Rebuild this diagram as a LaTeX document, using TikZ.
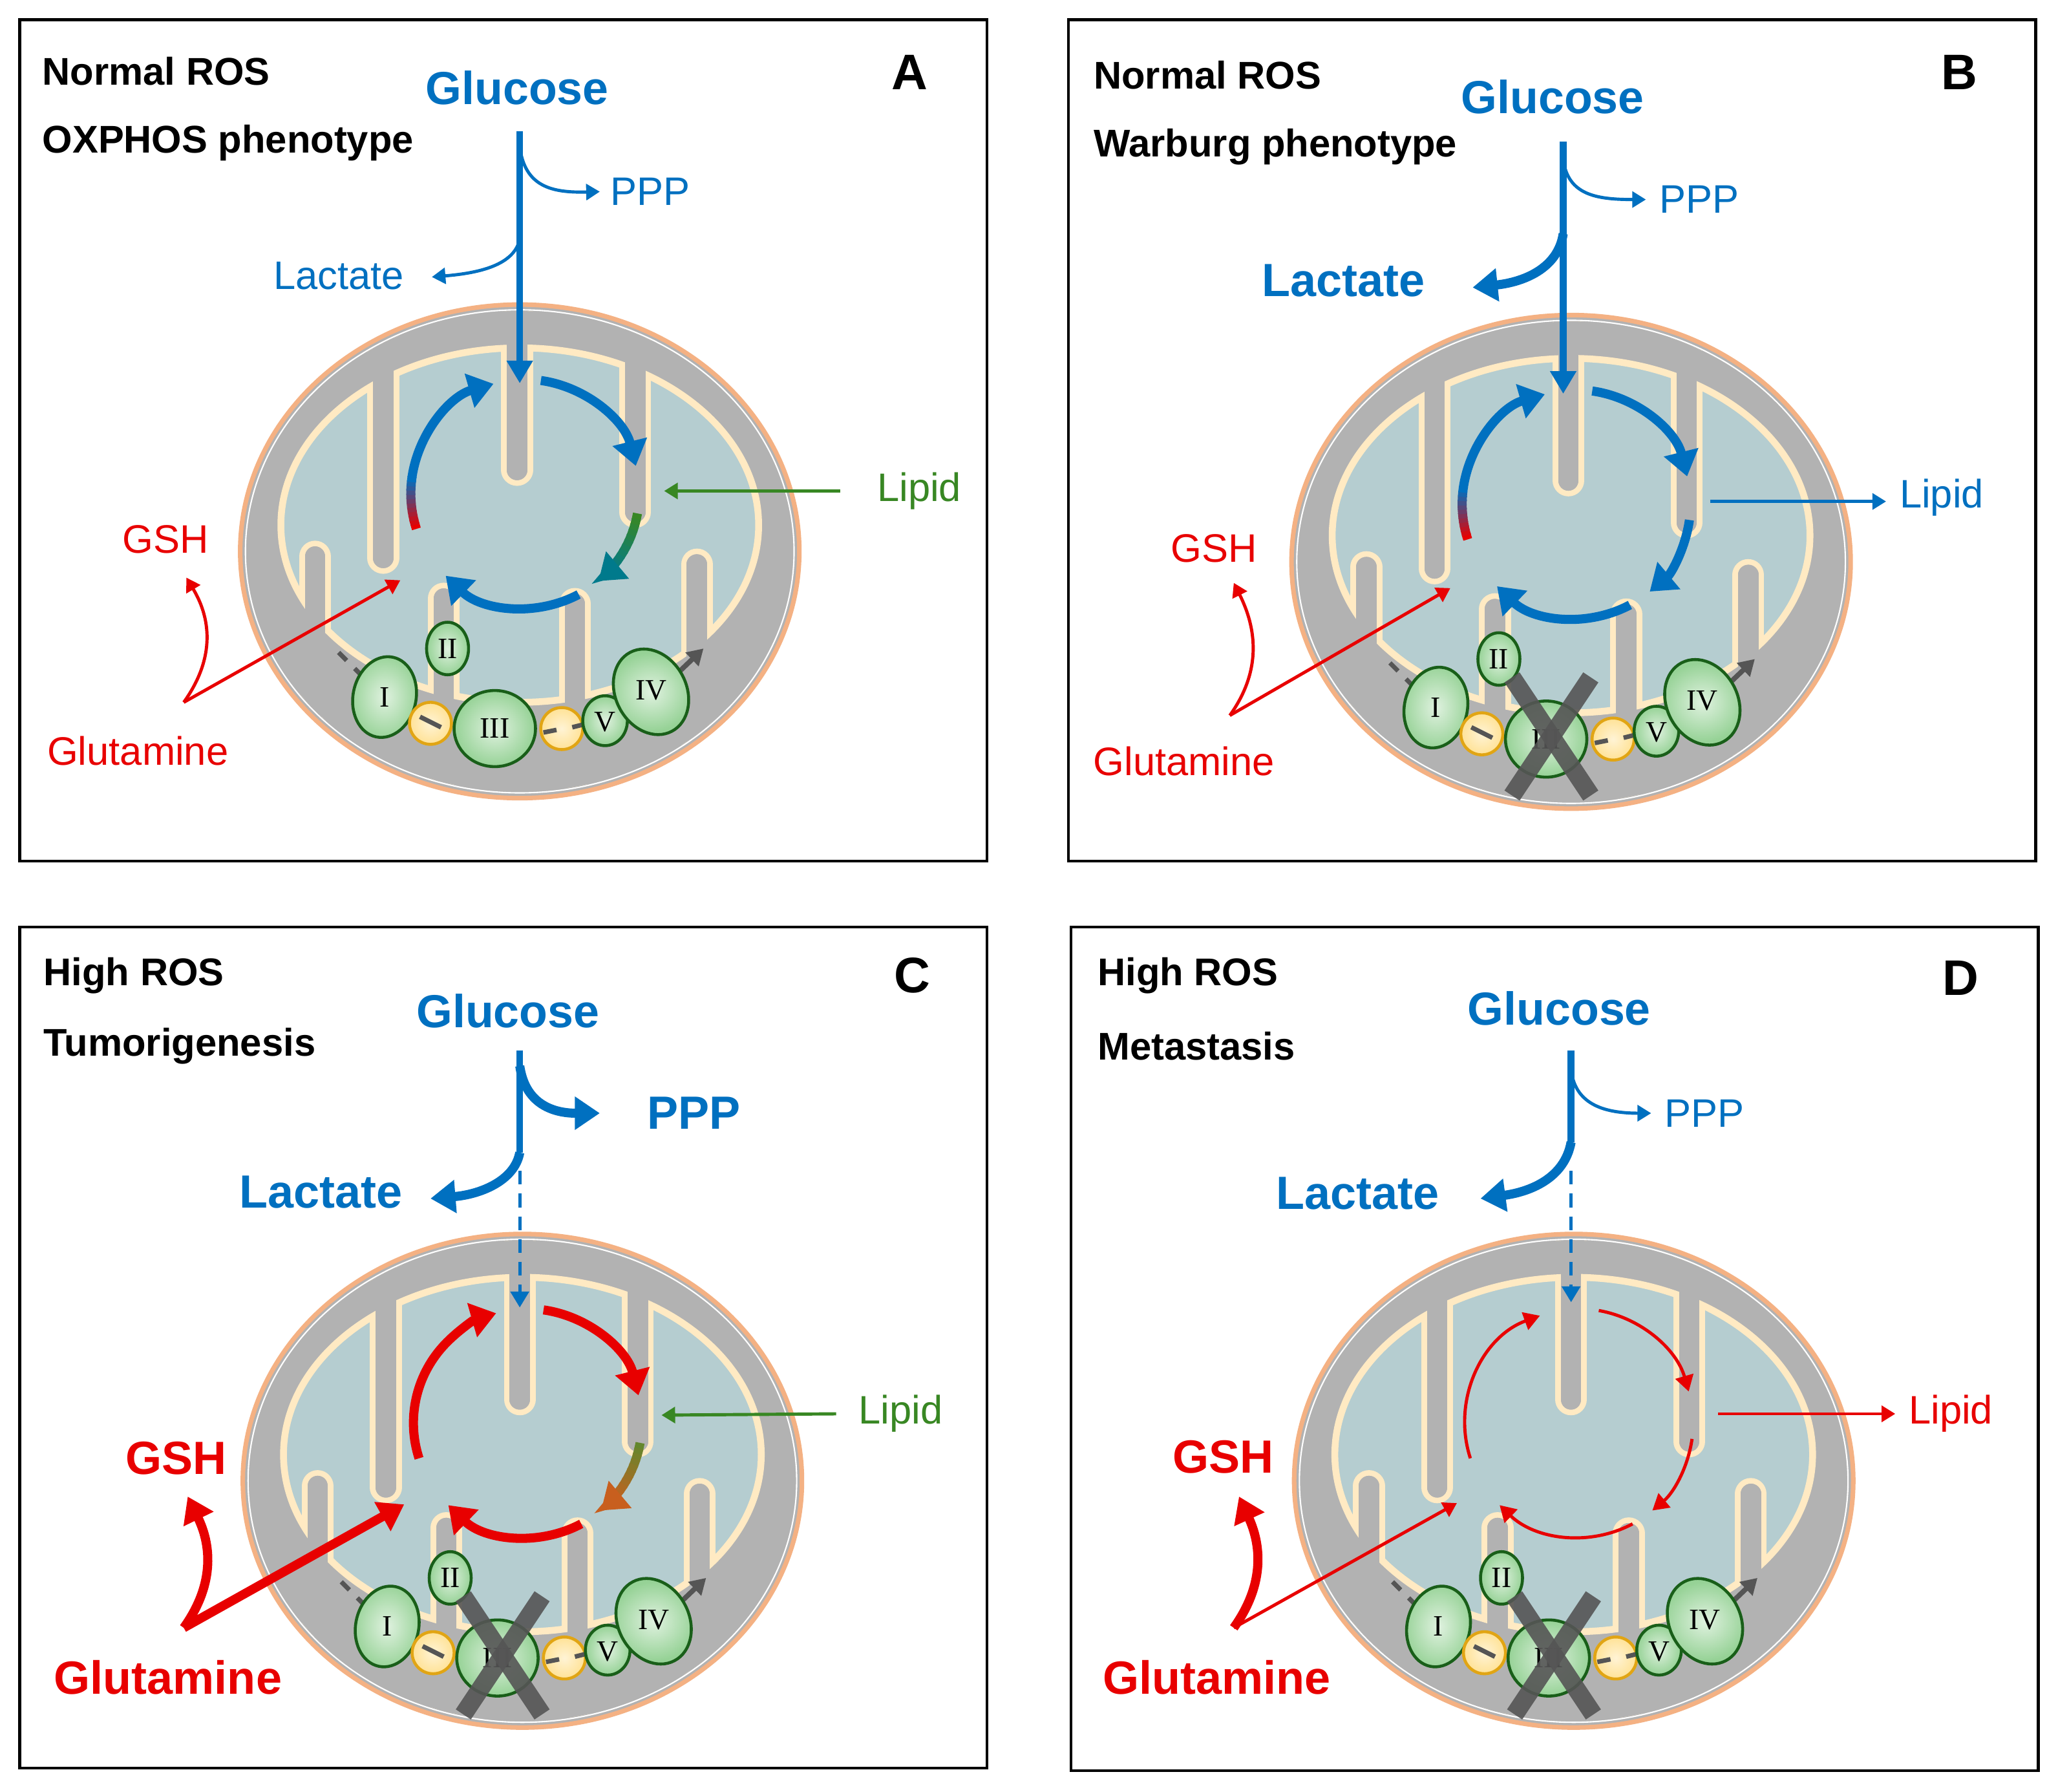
\documentclass[tikz,border=0pt]{standalone}
\usepackage{fontspec}
\setmainfont{Liberation Sans}
\newfontfamily\romf{Liberation Serif}
\usetikzlibrary{arrows.meta,shapes.geometric}
\definecolor{bl}{RGB}{0,112,192}
\definecolor{rd}{RGB}{232,0,0}
\definecolor{gr}{RGB}{56,135,35}
\definecolor{tl}{RGB}{0,122,140}
\definecolor{ol}{RGB}{100,135,45}
\definecolor{brn}{RGB}{200,95,30}
\definecolor{mg}{RGB}{178,178,178}
\definecolor{mx}{RGB}{181,205,208}
\definecolor{cr}{RGB}{255,234,195}
\definecolor{oe}{RGB}{244,177,131}
\definecolor{cg}{RGB}{25,95,25}
\definecolor{cgf}{RGB}{150,210,150}
\definecolor{yl}{RGB}{225,165,20}
\definecolor{yf}{RGB}{255,226,150}
\definecolor{dk}{RGB}{85,85,85}
\tikzset{
  panel/.style={draw=black,line width=1.2pt},
  hdr/.style={font=\fontsize{17}{19}\selectfont\bfseries,anchor=west,inner sep=0},
  let/.style={font=\fontsize{22}{24}\selectfont\bfseries,inner sep=0},
  glu/.style={font=\fontsize{20.4}{22}\selectfont\bfseries,text=bl,inner sep=0},
  sm/.style={font=\fontsize{17.5}{19}\selectfont,inner sep=0},
  big/.style={font=\fontsize{20.5}{22}\selectfont\bfseries,inner sep=0},
  rom/.style={font=\romf\fontsize{13}{13}\selectfont,inner sep=0},
  cplx/.style={inner color=white!70!cgf,outer color=cgf,draw=cg,line width=1.3pt},
  ycplx/.style={inner color=white!60!yf,outer color=yf,draw=yl,line width=1.3pt},
  thickA/.style={line width=3pt,-{Triangle[length=10pt,width=11pt]}},
  thinA/.style={line width=1.4pt,-{Triangle[length=6pt,width=7pt]}},
  fatA/.style={line width=4pt,-{Triangle[length=11pt,width=14pt]}},
  cycT/.style={line width=4pt,-{Triangle[length=11pt,width=15pt]}},
  cycthin/.style={line width=1.4pt,-{Triangle[length=7pt,width=8pt]}},
}
\newcommand\gradarc[6]{%
  \foreach \k in {0,...,11}{%
    \pgfmathsetmacro\aa{#1+(#2-#1)*\k/12}%
    \pgfmathsetmacro\bb{#1+(#2-#1)*(\k+1.3)/12}%
    \pgfmathtruncatemacro\pp{100*\k/11}%
    \draw[line width=#5,color=#4!\pp!#3] (CC) ++(\aa:#6) arc[start angle=\aa,end angle=\bb,radius=#6];}}
\newcommand\fingA[3]{%
  \draw[line cap=round,cr,line width=14pt] (#1,#2) -- (#1,#3);
  \draw[line cap=round,mg,line width=9pt] (#1,#2) -- (#1,#3);}
\newcommand\fingB[3]{%
  \draw[line cap=round,mg,line width=9pt] (#1,#2) -- (#1,#3);}
\newcommand\allfingers[1]{%
  #1{-2}{-185}{-62}
  #1{-104}{-175}{5}
  #1{88}{-180}{-30}
  #1{-156}{120}{4}
  #1{-58}{170}{36}
  #1{42}{170}{40}
  #1{135}{150}{10}}
\newcommand\mitobody[1]{%
  \draw[fill=mg,draw=oe,line width=2pt] (0,0) ellipse[x radius=213,y radius=188];
  \fill[mx] (0,-20) ellipse[x radius=182,y radius=135];
  \begin{scope}
  \clip (0,0) ellipse[x radius=208,y radius=183];
  \allfingers\fingA
  \fill[mg,even odd rule] (0,0) ellipse[x radius=210,y radius=185] (0,-20) ellipse[x radius=184,y radius=137];
  \draw[cr,line width=3pt] (0,-20) ellipse[x radius=182,y radius=135];
  \allfingers\fingB
  \end{scope}
  \draw[white,line width=0.6pt] (0,0) ellipse[x radius=209,y radius=184];
  \draw[dk,line width=2pt,dash pattern=on 5pt off 5pt] (-138,77) -- (-118,97);
  \draw[dk,line width=2.2pt,-{Triangle[length=7pt,width=8pt]}] (118,95) -- (140,74);
  \shadedraw[cplx,rotate around={-12:(-103,111)}] (-103,111) ellipse[x radius=24,y radius=31];
  \shadedraw[cplx] (-55,74) ellipse[x radius=16,y radius=20];
  \shadedraw[ycplx] (-68,131) circle[radius=16];
  \shadedraw[ycplx] (32,135) circle[radius=16];
  \draw[dk,line width=2pt] (-76,126) -- (-60,134);
  \draw[dk,line width=2pt] (18,138) -- (28,136);
  \draw[dk,line width=2pt] (40,134) -- (48,132);
  \shadedraw[cplx] (-19,135) ellipse[x radius=31,y radius=29];
  \shadedraw[cplx] (65,129) ellipse[x radius=17,y radius=19];
  \shadedraw[cplx,rotate around={28:(100,107)}] (100,107) ellipse[x radius=27,y radius=34];
  \node[rom] (r1) at (-103,111) {I};
  \node[rom] (r2) at (-55,74) {II};
  \node[rom] (r3) at (-19,135) {III};
  \node[rom] (r5) at (65,130) {V};
  \node[rom] (r4) at (100,106) {IV};
  \ifnum#1=1
    \draw[dk,opacity=0.9,line width=8pt] (-45,88) -- (15,178);
    \draw[dk,opacity=0.9,line width=8pt] (15,88) -- (-45,178);
  \fi
  \coordinate (CC) at (4,-44);}
\begin{document}
\begin{tikzpicture}[x=0.020306cm,y=-0.020306cm]
\useasboundingbox (0,0) rectangle (1568,1365);
\fill[white] (0,0) rectangle (1568,1365);
% ================= Panel A
\draw[panel] (15,15) rectangle (752,656);
\node[hdr] (a1) at (32,54) {Normal ROS};
\node[hdr] (a2) at (32,109) {OXPHOS phenotype};
\node[let] (aL) at (693,55) {A};
\node[glu] (aG) at (394,67) {Glucose};
\node[sm,text=bl,anchor=west] (aP) at (465,146) {PPP};
\node[sm,text=bl,anchor=east] (aLa) at (308,210) {Lactate};
\node[sm,text=gr,anchor=west] (aLi) at (668,374) {Lipid};
\node[sm,text=rd] (aS) at (126,411) {GSH};
\node[sm,text=rd] (aQ) at (105,572) {Glutamine};
\begin{scope}[shift={(396,420)}]
\mitobody{0}
\gradarc{-198}{-172}{rd}{bl}{4pt}{87}
\draw[bl,cycT] (CC) ++(-172:87) arc[start angle=-172,end angle=-106,radius=87];
\draw[bl,cycT] (CC) ++(-82:87) arc[start angle=-82,end angle=-14,radius=87];
\gradarc{10}{44}{gr}{tl}{4pt}{87}
\draw[tl,cycT] (CC) ++(44:87) arc[start angle=44,end angle=50,radius=87];
\draw[bl,cycT] (CC) ++(62:87) arc[start angle=62,end angle=134,radius=87];
\coordinate (aT) at (0,-128);
\coordinate (aLip) at (110,-46);
\coordinate (aM) at (-91,22);
\end{scope}
\coordinate (aTop) at (396,100);
\coordinate (aPe) at (457,146);
\coordinate (aLe) at (329,211);
\coordinate (aLs) at (640,374);
\coordinate (aSe) at (142,440);
\draw[bl,thickA] (aTop) -- (aT);
\draw[bl,thinA] (396,112) .. controls (400,142) and (420,147) .. (aPe);
\draw[bl,thinA] (396,182) .. controls (392,202) and (365,208) .. (aLe);
\draw[gr,thinA] (aLs) -- (aLip);
\coordinate (aX) at (140,535);
\draw[rd,thinA] (aX) -- (aM);
\draw[rd,thinA] (aX) .. controls (165,500) and (160,470) .. (aSe);
% ================= Panel B
\draw[panel] (814,15) rectangle (1551,656);
\node[hdr] (b1) at (833,57) {Normal ROS};
\node[hdr] (b2) at (833,112) {Warburg phenotype};
\node[let] (bL) at (1493,55) {B};
\node[glu] (bG) at (1183,74) {Glucose};
\node[sm,text=bl,anchor=west] (bP) at (1264,152) {PPP};
\node[big,text=bl,anchor=east] (bLa) at (1086,214) {Lactate};
\node[sm,text=bl,anchor=west] (bLi) at (1447,379) {Lipid};
\node[sm,text=rd] (bS) at (925,418) {GSH};
\node[sm,text=rd] (bQ) at (902,580) {Glutamine};
\begin{scope}[shift={(1197,428)}]
\mitobody{1}
\gradarc{-198}{-172}{rd}{bl}{4pt}{87}
\draw[bl,cycT] (CC) ++(-172:87) arc[start angle=-172,end angle=-106,radius=87];
\draw[bl,cycT] (CC) ++(-82:87) arc[start angle=-82,end angle=-14,radius=87];
\draw[bl,cycT] (CC) ++(8:87) arc[start angle=8,end angle=50,radius=87];
\draw[bl,cycT] (CC) ++(62:87) arc[start angle=62,end angle=134,radius=87];
\coordinate (bT) at (-6,-128);
\coordinate (bLip) at (106,-46);
\coordinate (bM) at (-92,20);
\end{scope}
\coordinate (bTop) at (1191,108);
\coordinate (bPe) at (1254,152);
\coordinate (bLe) at (1122,219);
\coordinate (bLt) at (1437,382);
\coordinate (bSe) at (940,444);
\draw[bl,thickA] (bTop) -- (bT);
\draw[bl,thinA] (1191,122) .. controls (1195,148) and (1215,152) .. (bPe);
\draw[bl,fatA] (1191,178) .. controls (1187,205) and (1160,215) .. (bLe);
\draw[bl,thinA] (bLip) -- (bLt);
\coordinate (bX) at (937,545);
\draw[rd,thinA] (bX) -- (bM);
\draw[rd,thinA] (bX) .. controls (962,510) and (957,478) .. (bSe);
% ================= Panel C
\draw[panel] (15,706) rectangle (752,1347);
\node[hdr] (c1) at (33,743) {High ROS};
\node[hdr] (c2) at (33,797) {Tumorigenesis};
\node[let] (cL) at (695,743) {C};
\node[glu] (cG) at (387,770) {Glucose};
\node[big,text=bl,anchor=west] (cP) at (493,848) {PPP};
\node[big,text=bl,anchor=east] (cLa) at (307,908) {Lactate};
\node[sm,text=gr,anchor=west] (cLi) at (654,1077) {Lipid};
\node[big,text=rd] (cS) at (134,1111) {GSH};
\node[big,text=rd] (cQ) at (128,1278) {Glutamine};
\begin{scope}[shift={(398,1128)}]
\mitobody{1}
\draw[rd,cycT] (CC) ++(-198:87) arc[start angle=-198,end angle=-106,radius=87];
\draw[rd,cycT] (CC) ++(-82:87) arc[start angle=-82,end angle=-14,radius=87];
\gradarc{10}{44}{ol}{brn}{4pt}{87}
\draw[brn,cycT] (CC) ++(44:87) arc[start angle=44,end angle=50,radius=87];
\draw[rd,cycT] (CC) ++(62:87) arc[start angle=62,end angle=134,radius=87];
\coordinate (cT) at (-2,-132);
\coordinate (cLip) at (106,-50);
\coordinate (cM) at (-90,18);
\end{scope}
\coordinate (cTop) at (396,800);
\coordinate (cJ) at (396,878);
\coordinate (cPe) at (457,848);
\coordinate (cLe) at (328,913);
\coordinate (cLs) at (637,1077);
\coordinate (cSe) at (143,1140);
\draw[bl,line width=3pt] (cTop) -- (cJ);
\draw[bl,fatA] (396,812) .. controls (400,840) and (420,848) .. (cPe);
\draw[bl,fatA] (cJ) .. controls (392,900) and (365,910) .. (cLe);
\draw[bl,line width=1.5pt,dash pattern=on 6pt off 4pt,-{Triangle[length=7pt,width=8pt]}] (396,892) -- (cT);
\draw[gr,thinA] (cLs) -- (cLip);
\coordinate (cX) at (140,1240);
\draw[rd,fatA] (cX) -- (cM);
\draw[rd,fatA] (cX) .. controls (165,1205) and (160,1175) .. (cSe);
% ================= Panel D
\draw[panel] (816,706) rectangle (1553,1349);
\node[hdr] (d1) at (836,743) {High ROS};
\node[hdr] (d2) at (836,797) {Metastasis};
\node[let] (dL) at (1494,745) {D};
\node[glu] (dG) at (1188,768) {Glucose};
\node[sm,text=bl,anchor=west] (dP) at (1268,848) {PPP};
\node[big,text=bl,anchor=east] (dLa) at (1097,909) {Lactate};
\node[sm,text=rd,anchor=west] (dLi) at (1454,1077) {Lipid};
\node[big,text=rd] (dS) at (932,1110) {GSH};
\node[big,text=rd] (dQ) at (927,1278) {Glutamine};
\begin{scope}[shift={(1199,1128)}]
\mitobody{1}
\draw[rd,cycthin] (CC) ++(-198:87) arc[start angle=-198,end angle=-110,radius=87];
\draw[rd,cycthin] (CC) ++(-80:87) arc[start angle=-80,end angle=-16,radius=87];
\draw[rd,cycthin] (CC) ++(8:87) arc[start angle=8,end angle=50,radius=87];
\draw[rd,cycthin] (CC) ++(62:87) arc[start angle=62,end angle=134,radius=87];
\coordinate (dT) at (-2,-136);
\coordinate (dLip) at (110,-51);
\coordinate (dM) at (-89,17);
\end{scope}
\coordinate (dTop) at (1197,800);
\coordinate (dJ) at (1197,870);
\coordinate (dPe) at (1258,848);
\coordinate (dLe) at (1128,913);
\coordinate (dLt) at (1444,1077);
\coordinate (dSe) at (944,1140);
\draw[bl,line width=3pt] (dTop) -- (dJ);
\draw[bl,thinA] (1197,815) .. controls (1200,840) and (1220,848) .. (dPe);
\draw[bl,fatA] (dJ) .. controls (1192,898) and (1165,908) .. (dLe);
\draw[bl,line width=1.5pt,dash pattern=on 6pt off 4pt,-{Triangle[length=7pt,width=8pt]}] (1197,892) -- (dT);
\draw[rd,thinA] (dLip) -- (dLt);
\coordinate (dX) at (940,1240);
\draw[rd,thinA] (dX) -- (dM);
\draw[rd,fatA] (dX) .. controls (965,1205) and (960,1175) .. (dSe);
\end{tikzpicture}
\end{document}
